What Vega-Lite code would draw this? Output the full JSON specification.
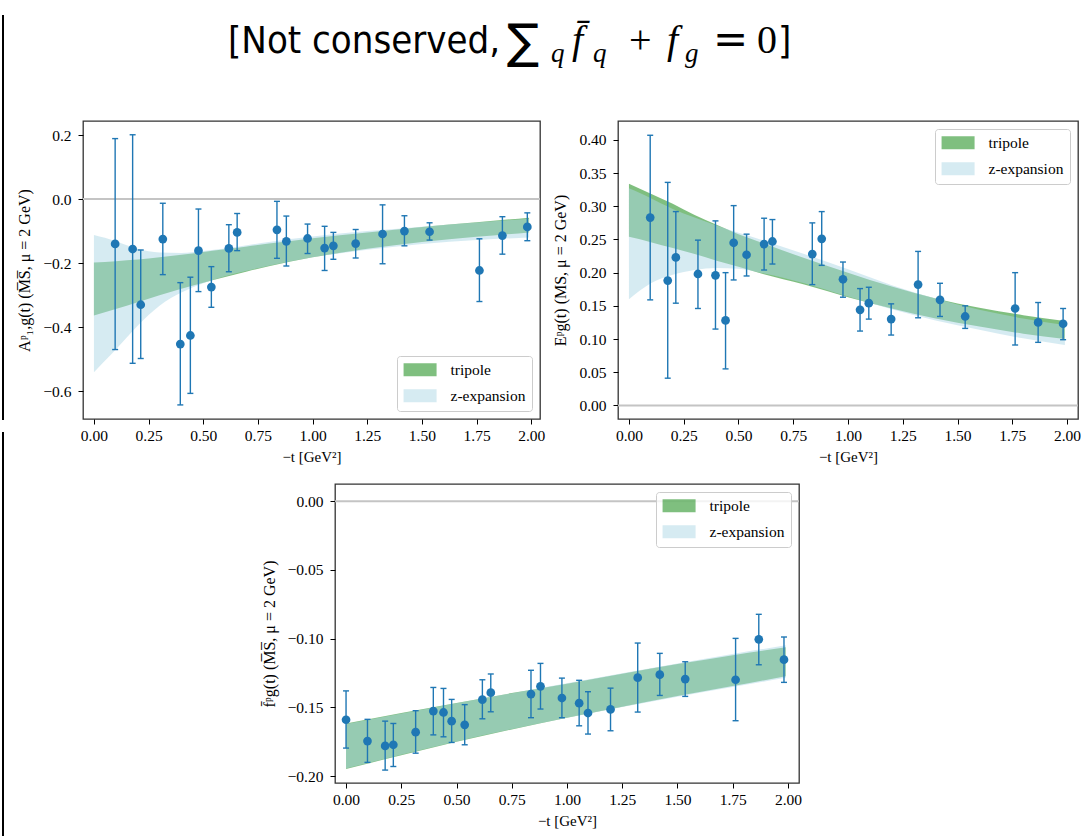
{
  "$schema": "https://vega.github.io/schema/vega-lite/v6.json",
  "background": "white",
  "padding": {"left": 2, "top": 15, "right": 0, "bottom": 0},
  "datasets": {
    "p1pts": [
      {"t": 0.097, "v": -0.140, "lo": -0.470, "hi": 0.189},
      {"t": 0.177, "v": -0.156, "lo": -0.513, "hi": 0.201},
      {"t": 0.214, "v": -0.330, "lo": -0.498, "hi": -0.159},
      {"t": 0.315, "v": -0.125, "lo": -0.236, "hi": -0.013},
      {"t": 0.395, "v": -0.453, "lo": -0.643, "hi": -0.261},
      {"t": 0.441, "v": -0.426, "lo": -0.607, "hi": -0.244},
      {"t": 0.478, "v": -0.161, "lo": -0.289, "hi": -0.031},
      {"t": 0.537, "v": -0.275, "lo": -0.338, "hi": -0.211},
      {"t": 0.617, "v": -0.154, "lo": -0.227, "hi": -0.080},
      {"t": 0.655, "v": -0.104, "lo": -0.161, "hi": -0.045},
      {"t": 0.837, "v": -0.096, "lo": -0.185, "hi": -0.007},
      {"t": 0.880, "v": -0.132, "lo": -0.209, "hi": -0.053},
      {"t": 0.977, "v": -0.123, "lo": -0.170, "hi": -0.078},
      {"t": 1.055, "v": -0.153, "lo": -0.223, "hi": -0.085},
      {"t": 1.095, "v": -0.146, "lo": -0.188, "hi": -0.104},
      {"t": 1.197, "v": -0.139, "lo": -0.184, "hi": -0.095},
      {"t": 1.320, "v": -0.109, "lo": -0.202, "hi": -0.018},
      {"t": 1.420, "v": -0.100, "lo": -0.146, "hi": -0.052},
      {"t": 1.535, "v": -0.102, "lo": -0.128, "hi": -0.074},
      {"t": 1.763, "v": -0.223, "lo": -0.320, "hi": -0.124},
      {"t": 1.868, "v": -0.114, "lo": -0.172, "hi": -0.055},
      {"t": 1.982, "v": -0.087, "lo": -0.130, "hi": -0.043}
    ],
    "p1band": [
      {"model": "tripole", "t": 0.00, "lo": -0.364, "hi": -0.198},
      {"model": "tripole", "t": 0.10, "lo": -0.343, "hi": -0.194},
      {"model": "tripole", "t": 0.20, "lo": -0.322, "hi": -0.189},
      {"model": "tripole", "t": 0.30, "lo": -0.300, "hi": -0.182},
      {"model": "tripole", "t": 0.40, "lo": -0.280, "hi": -0.174},
      {"model": "tripole", "t": 0.50, "lo": -0.261, "hi": -0.165},
      {"model": "tripole", "t": 0.60, "lo": -0.243, "hi": -0.157},
      {"model": "tripole", "t": 0.70, "lo": -0.226, "hi": -0.148},
      {"model": "tripole", "t": 0.80, "lo": -0.210, "hi": -0.139},
      {"model": "tripole", "t": 1.00, "lo": -0.182, "hi": -0.122},
      {"model": "tripole", "t": 1.25, "lo": -0.155, "hi": -0.104},
      {"model": "tripole", "t": 1.50, "lo": -0.134, "hi": -0.087},
      {"model": "tripole", "t": 1.75, "lo": -0.118, "hi": -0.072},
      {"model": "tripole", "t": 1.99, "lo": -0.104, "hi": -0.058},
      {"model": "z-expansion", "t": 0.00, "lo": -0.541, "hi": -0.112},
      {"model": "z-expansion", "t": 0.05, "lo": -0.505, "hi": -0.121},
      {"model": "z-expansion", "t": 0.10, "lo": -0.470, "hi": -0.132},
      {"model": "z-expansion", "t": 0.15, "lo": -0.432, "hi": -0.144},
      {"model": "z-expansion", "t": 0.20, "lo": -0.396, "hi": -0.155},
      {"model": "z-expansion", "t": 0.25, "lo": -0.362, "hi": -0.163},
      {"model": "z-expansion", "t": 0.30, "lo": -0.333, "hi": -0.167},
      {"model": "z-expansion", "t": 0.40, "lo": -0.292, "hi": -0.168},
      {"model": "z-expansion", "t": 0.50, "lo": -0.263, "hi": -0.162},
      {"model": "z-expansion", "t": 0.60, "lo": -0.241, "hi": -0.154},
      {"model": "z-expansion", "t": 0.70, "lo": -0.224, "hi": -0.144},
      {"model": "z-expansion", "t": 0.80, "lo": -0.208, "hi": -0.134},
      {"model": "z-expansion", "t": 1.00, "lo": -0.182, "hi": -0.117},
      {"model": "z-expansion", "t": 1.25, "lo": -0.158, "hi": -0.100},
      {"model": "z-expansion", "t": 1.50, "lo": -0.140, "hi": -0.086},
      {"model": "z-expansion", "t": 1.75, "lo": -0.128, "hi": -0.073},
      {"model": "z-expansion", "t": 1.99, "lo": -0.120, "hi": -0.061}
    ],
    "p2pts": [
      {"t": 0.097, "v": 0.283, "lo": 0.159, "hi": 0.407},
      {"t": 0.177, "v": 0.188, "lo": 0.041, "hi": 0.336},
      {"t": 0.214, "v": 0.223, "lo": 0.154, "hi": 0.292},
      {"t": 0.315, "v": 0.198, "lo": 0.146, "hi": 0.249},
      {"t": 0.395, "v": 0.196, "lo": 0.115, "hi": 0.278},
      {"t": 0.441, "v": 0.128, "lo": 0.055, "hi": 0.200},
      {"t": 0.478, "v": 0.245, "lo": 0.189, "hi": 0.301},
      {"t": 0.537, "v": 0.227, "lo": 0.195, "hi": 0.258},
      {"t": 0.617, "v": 0.243, "lo": 0.204, "hi": 0.282},
      {"t": 0.655, "v": 0.247, "lo": 0.213, "hi": 0.280},
      {"t": 0.837, "v": 0.228, "lo": 0.182, "hi": 0.275},
      {"t": 0.880, "v": 0.251, "lo": 0.211, "hi": 0.292},
      {"t": 0.977, "v": 0.190, "lo": 0.163, "hi": 0.216},
      {"t": 1.055, "v": 0.144, "lo": 0.112, "hi": 0.176},
      {"t": 1.095, "v": 0.154, "lo": 0.130, "hi": 0.178},
      {"t": 1.197, "v": 0.130, "lo": 0.106, "hi": 0.153},
      {"t": 1.320, "v": 0.182, "lo": 0.132, "hi": 0.232},
      {"t": 1.420, "v": 0.159, "lo": 0.134, "hi": 0.184},
      {"t": 1.535, "v": 0.134, "lo": 0.116, "hi": 0.150},
      {"t": 1.763, "v": 0.146, "lo": 0.091, "hi": 0.200},
      {"t": 1.868, "v": 0.125, "lo": 0.095, "hi": 0.155},
      {"t": 1.982, "v": 0.123, "lo": 0.099, "hi": 0.146}
    ],
    "p2band": [
      {"model": "tripole", "t": 0.00, "lo": 0.254, "hi": 0.334},
      {"model": "tripole", "t": 0.10, "lo": 0.246, "hi": 0.319},
      {"model": "tripole", "t": 0.20, "lo": 0.237, "hi": 0.304},
      {"model": "tripole", "t": 0.30, "lo": 0.228, "hi": 0.287},
      {"model": "tripole", "t": 0.40, "lo": 0.218, "hi": 0.272},
      {"model": "tripole", "t": 0.50, "lo": 0.209, "hi": 0.258},
      {"model": "tripole", "t": 0.60, "lo": 0.199, "hi": 0.246},
      {"model": "tripole", "t": 0.80, "lo": 0.182, "hi": 0.222},
      {"model": "tripole", "t": 1.00, "lo": 0.163, "hi": 0.200},
      {"model": "tripole", "t": 1.20, "lo": 0.146, "hi": 0.179},
      {"model": "tripole", "t": 1.40, "lo": 0.131, "hi": 0.161},
      {"model": "tripole", "t": 1.60, "lo": 0.119, "hi": 0.147},
      {"model": "tripole", "t": 1.80, "lo": 0.108, "hi": 0.136},
      {"model": "tripole", "t": 1.99, "lo": 0.100, "hi": 0.127},
      {"model": "z-expansion", "t": 0.00, "lo": 0.160, "hi": 0.327},
      {"model": "z-expansion", "t": 0.05, "lo": 0.173, "hi": 0.320},
      {"model": "z-expansion", "t": 0.10, "lo": 0.184, "hi": 0.312},
      {"model": "z-expansion", "t": 0.20, "lo": 0.197, "hi": 0.296},
      {"model": "z-expansion", "t": 0.30, "lo": 0.204, "hi": 0.283},
      {"model": "z-expansion", "t": 0.40, "lo": 0.207, "hi": 0.271},
      {"model": "z-expansion", "t": 0.50, "lo": 0.206, "hi": 0.260},
      {"model": "z-expansion", "t": 0.60, "lo": 0.200, "hi": 0.250},
      {"model": "z-expansion", "t": 0.80, "lo": 0.184, "hi": 0.228},
      {"model": "z-expansion", "t": 1.00, "lo": 0.164, "hi": 0.205},
      {"model": "z-expansion", "t": 1.20, "lo": 0.145, "hi": 0.181},
      {"model": "z-expansion", "t": 1.40, "lo": 0.128, "hi": 0.161},
      {"model": "z-expansion", "t": 1.60, "lo": 0.114, "hi": 0.144},
      {"model": "z-expansion", "t": 1.80, "lo": 0.101, "hi": 0.131},
      {"model": "z-expansion", "t": 1.99, "lo": 0.091, "hi": 0.121}
    ],
    "p3pts": [
      {"t": 0.000, "v": -0.1590, "lo": -0.1796, "hi": -0.1380},
      {"t": 0.097, "v": -0.1745, "lo": -0.1900, "hi": -0.1587},
      {"t": 0.177, "v": -0.1780, "lo": -0.1956, "hi": -0.1600},
      {"t": 0.214, "v": -0.1772, "lo": -0.1930, "hi": -0.1617},
      {"t": 0.315, "v": -0.1680, "lo": -0.1833, "hi": -0.1524},
      {"t": 0.395, "v": -0.1527, "lo": -0.1700, "hi": -0.1355},
      {"t": 0.441, "v": -0.1537, "lo": -0.1714, "hi": -0.1362},
      {"t": 0.478, "v": -0.1600, "lo": -0.1755, "hi": -0.1442},
      {"t": 0.537, "v": -0.1627, "lo": -0.1772, "hi": -0.1480},
      {"t": 0.617, "v": -0.1444, "lo": -0.1583, "hi": -0.1299},
      {"t": 0.655, "v": -0.1393, "lo": -0.1532, "hi": -0.1257},
      {"t": 0.837, "v": -0.1403, "lo": -0.1575, "hi": -0.1230},
      {"t": 0.880, "v": -0.1347, "lo": -0.1512, "hi": -0.1180},
      {"t": 0.977, "v": -0.1432, "lo": -0.1575, "hi": -0.1287},
      {"t": 1.055, "v": -0.1469, "lo": -0.1634, "hi": -0.1303},
      {"t": 1.095, "v": -0.1541, "lo": -0.1694, "hi": -0.1386},
      {"t": 1.197, "v": -0.1515, "lo": -0.1670, "hi": -0.1360},
      {"t": 1.320, "v": -0.1284, "lo": -0.1534, "hi": -0.1032},
      {"t": 1.420, "v": -0.1262, "lo": -0.1413, "hi": -0.1107},
      {"t": 1.535, "v": -0.1294, "lo": -0.1420, "hi": -0.1168},
      {"t": 1.763, "v": -0.1299, "lo": -0.1597, "hi": -0.0998},
      {"t": 1.868, "v": -0.1005, "lo": -0.1190, "hi": -0.0823},
      {"t": 1.982, "v": -0.1153, "lo": -0.1318, "hi": -0.0988}
    ],
    "p3band": [
      {"model": "tripole", "t": 0.00, "lo": -0.1949, "hi": -0.1617},
      {"model": "tripole", "t": 0.25, "lo": -0.1848, "hi": -0.1540},
      {"model": "tripole", "t": 0.50, "lo": -0.1750, "hi": -0.1468},
      {"model": "tripole", "t": 0.75, "lo": -0.1660, "hi": -0.1396},
      {"model": "tripole", "t": 1.00, "lo": -0.1575, "hi": -0.1328},
      {"model": "tripole", "t": 1.25, "lo": -0.1495, "hi": -0.1255},
      {"model": "tripole", "t": 1.50, "lo": -0.1418, "hi": -0.1185},
      {"model": "tripole", "t": 1.75, "lo": -0.1345, "hi": -0.1120},
      {"model": "tripole", "t": 1.99, "lo": -0.1274, "hi": -0.1062},
      {"model": "z-expansion", "t": 0.00, "lo": -0.1945, "hi": -0.1620},
      {"model": "z-expansion", "t": 0.50, "lo": -0.1748, "hi": -0.1470},
      {"model": "z-expansion", "t": 1.00, "lo": -0.1575, "hi": -0.1325},
      {"model": "z-expansion", "t": 1.50, "lo": -0.1422, "hi": -0.1180},
      {"model": "z-expansion", "t": 1.75, "lo": -0.1352, "hi": -0.1112},
      {"model": "z-expansion", "t": 1.99, "lo": -0.1285, "hi": -0.1048}
    ]
  },
  "bounds": "full",
  "spacing": 0,
  "resolve": {"scale": {"x": "independent", "y": "independent", "color": "independent"}, "legend": {"color": "independent"}, "axis": {"x": "independent", "y": "independent"}},
  "hconcat": [
    {
      "bounds": "flush",
      "spacing": 12,
      "vconcat": [
        {"width": 2, "height": 405, "view": {"fill": "#000000", "stroke": null}, "data": {"values": []}, "mark": "text"},
        {"width": 2, "height": 404, "view": {"fill": "#000000", "stroke": null}, "data": {"values": []}, "mark": "text"}
      ]
    },
    {
      "bounds": "full",
      "spacing": 17,
      "resolve": {"scale": {"x": "independent", "y": "independent", "color": "independent"}, "legend": {"color": "independent"}, "axis": {"x": "independent", "y": "independent"}},
      "vconcat": [
        {
          "width": 1010,
          "height": 88,
          "view": {"stroke": null},
          "layer": [
            {"data": {"values": [{"s": "[Not conserved, "}]}, "mark": {"type": "text", "align": "left", "baseline": "alphabetic", "font": "Liberation Sans Narrow, DejaVu Sans Condensed, Lato, sans-serif", "fontSize": 38, "dx": -281, "dy": -6, "color": "#000"}, "encoding": {"text": {"field": "s"}}},
            {"data": {"values": [{"s": "∑"}]}, "mark": {"type": "text", "align": "left", "baseline": "alphabetic", "font": "DejaVu Sans", "fontSize": 48, "dx": -2, "dy": -1, "color": "#000"}, "encoding": {"text": {"field": "s"}}},
            {"data": {"values": [{"s": "q"}]}, "mark": {"type": "text", "align": "left", "baseline": "alphabetic", "font": "Liberation Serif", "fontStyle": "italic", "fontSize": 27, "dx": 42, "dy": 3, "color": "#000"}, "encoding": {"text": {"field": "s"}}},
            {"data": {"values": [{"s": "f̄"}]}, "mark": {"type": "text", "align": "left", "baseline": "alphabetic", "font": "Liberation Serif", "fontStyle": "italic", "fontSize": 40, "dx": 63, "dy": -6, "color": "#000"}, "encoding": {"text": {"field": "s"}}},
            {"data": {"values": [{"s": "q"}]}, "mark": {"type": "text", "align": "left", "baseline": "alphabetic", "font": "Liberation Serif", "fontStyle": "italic", "fontSize": 27, "dx": 84, "dy": 3, "color": "#000"}, "encoding": {"text": {"field": "s"}}},
            {"data": {"values": [{"s": "+"}]}, "mark": {"type": "text", "align": "left", "baseline": "alphabetic", "font": "Liberation Serif", "fontSize": 40, "dx": 120, "dy": -6, "color": "#000"}, "encoding": {"text": {"field": "s"}}},
            {"data": {"values": [{"s": "f"}]}, "mark": {"type": "text", "align": "left", "baseline": "alphabetic", "font": "Liberation Serif", "fontStyle": "italic", "fontSize": 40, "dx": 158, "dy": -6, "color": "#000"}, "encoding": {"text": {"field": "s"}}},
            {"data": {"values": [{"s": "g"}]}, "mark": {"type": "text", "align": "left", "baseline": "alphabetic", "font": "Liberation Serif", "fontStyle": "italic", "fontSize": 27, "dx": 176, "dy": 3, "color": "#000"}, "encoding": {"text": {"field": "s"}}},
            {"data": {"values": [{"s": "="}]}, "mark": {"type": "text", "align": "left", "baseline": "alphabetic", "font": "DejaVu Sans", "fontSize": 42, "dx": 204, "dy": -6, "color": "#000"}, "encoding": {"text": {"field": "s"}}},
            {"data": {"values": [{"s": "0"}]}, "mark": {"type": "text", "align": "left", "baseline": "alphabetic", "font": "Liberation Serif", "fontSize": 40, "dx": 248, "dy": -6, "color": "#000"}, "encoding": {"text": {"field": "s"}}},
            {"data": {"values": [{"s": "]"}]}, "mark": {"type": "text", "align": "left", "baseline": "alphabetic", "font": "Liberation Sans Narrow, DejaVu Sans Condensed, Lato, sans-serif", "fontSize": 38, "dx": 269, "dy": -6, "color": "#000"}, "encoding": {"text": {"field": "s"}}}
          ]
        },
        {
          "bounds": "flush",
          "spacing": 78,
          "resolve": {"scale": {"x": "independent", "y": "independent", "color": "independent"}, "legend": {"color": "independent"}, "axis": {"x": "independent", "y": "independent"}},
          "hconcat": [
            {"width": 1, "height": 1, "view": {"stroke": null}, "data": {"values": []}, "mark": "text"},
            {
              "width": 457,
              "height": 298,
              "layer": [
                {"data": {"values": [{}]}, "mark": {"type": "rule", "color": "#c4c4c4", "strokeWidth": 2}, "encoding": {"y": {"datum": 0, "type": "quantitative", "scale": {"domain": [-0.687, 0.244], "nice": false, "zero": false}, "axis": {"values": [-0.6, -0.4, -0.2, 0, 0.2], "format": ".1f", "title": "Aᵖ₁,g(t)   (M̅S̅, μ = 2 GeV)"}}}},
                {"data": {"name": "p1band"}, "transform": [{"filter": "datum.model === 'tripole'"}], "mark": {"type": "area", "opacity": 0.5, "interpolate": "monotone"}, "encoding": {"x": {"field": "t", "type": "quantitative", "scale": {"domain": [-0.05, 2.04], "nice": false, "zero": false}, "axis": {"values": [0, 0.25, 0.5, 0.75, 1, 1.25, 1.5, 1.75, 2], "format": ".2f", "title": "−t [GeV²]"}}, "y": {"field": "lo", "type": "quantitative", "scale": {"domain": [-0.687, 0.244], "nice": false, "zero": false}, "axis": {"values": [-0.6, -0.4, -0.2, 0, 0.2], "format": ".1f", "title": "Aᵖ₁,g(t)   (M̅S̅, μ = 2 GeV)"}}, "y2": {"field": "hi"}, "color": {"field": "model", "type": "nominal", "scale": {"domain": ["tripole", "z-expansion"], "range": ["#008000", "#add8e6"]}, "legend": {"title": null, "orient": "bottom-right"}}}},
                {"data": {"name": "p1band"}, "transform": [{"filter": "datum.model === 'z-expansion'"}], "mark": {"type": "area", "opacity": 0.5, "interpolate": "monotone"}, "encoding": {"x": {"field": "t", "type": "quantitative", "scale": {"domain": [-0.05, 2.04], "nice": false, "zero": false}, "axis": {"values": [0, 0.25, 0.5, 0.75, 1, 1.25, 1.5, 1.75, 2], "format": ".2f", "title": "−t [GeV²]"}}, "y": {"field": "lo", "type": "quantitative", "scale": {"domain": [-0.687, 0.244], "nice": false, "zero": false}, "axis": {"values": [-0.6, -0.4, -0.2, 0, 0.2], "format": ".1f", "title": "Aᵖ₁,g(t)   (M̅S̅, μ = 2 GeV)"}}, "y2": {"field": "hi"}, "color": {"field": "model", "type": "nominal", "scale": {"domain": ["tripole", "z-expansion"], "range": ["#008000", "#add8e6"]}, "legend": {"title": null, "orient": "bottom-right"}}}},
                {"data": {"name": "p1pts"}, "mark": {"type": "rule", "color": "#1f77b4", "strokeWidth": 1.4}, "encoding": {"x": {"field": "t", "type": "quantitative", "scale": {"domain": [-0.05, 2.04], "nice": false, "zero": false}, "axis": {"values": [0, 0.25, 0.5, 0.75, 1, 1.25, 1.5, 1.75, 2], "format": ".2f", "title": "−t [GeV²]"}}, "y": {"field": "lo", "type": "quantitative", "scale": {"domain": [-0.687, 0.244], "nice": false, "zero": false}, "axis": {"values": [-0.6, -0.4, -0.2, 0, 0.2], "format": ".1f", "title": "Aᵖ₁,g(t)   (M̅S̅, μ = 2 GeV)"}}, "y2": {"field": "hi"}}},
                {"data": {"name": "p1pts"}, "mark": {"type": "tick", "orient": "horizontal", "color": "#1f77b4", "size": 6, "thickness": 1.4, "opacity": 1}, "encoding": {"x": {"field": "t", "type": "quantitative", "scale": {"domain": [-0.05, 2.04], "nice": false, "zero": false}, "axis": {"values": [0, 0.25, 0.5, 0.75, 1, 1.25, 1.5, 1.75, 2], "format": ".2f", "title": "−t [GeV²]"}}, "y": {"field": "lo", "type": "quantitative", "scale": {"domain": [-0.687, 0.244], "nice": false, "zero": false}, "axis": {"values": [-0.6, -0.4, -0.2, 0, 0.2], "format": ".1f", "title": "Aᵖ₁,g(t)   (M̅S̅, μ = 2 GeV)"}}}},
                {"data": {"name": "p1pts"}, "mark": {"type": "tick", "orient": "horizontal", "color": "#1f77b4", "size": 6, "thickness": 1.4, "opacity": 1}, "encoding": {"x": {"field": "t", "type": "quantitative", "scale": {"domain": [-0.05, 2.04], "nice": false, "zero": false}, "axis": {"values": [0, 0.25, 0.5, 0.75, 1, 1.25, 1.5, 1.75, 2], "format": ".2f", "title": "−t [GeV²]"}}, "y": {"field": "hi", "type": "quantitative", "scale": {"domain": [-0.687, 0.244], "nice": false, "zero": false}, "axis": {"values": [-0.6, -0.4, -0.2, 0, 0.2], "format": ".1f", "title": "Aᵖ₁,g(t)   (M̅S̅, μ = 2 GeV)"}}}},
                {"data": {"name": "p1pts"}, "mark": {"type": "circle", "color": "#1f77b4", "size": 76, "opacity": 1}, "encoding": {"x": {"field": "t", "type": "quantitative", "scale": {"domain": [-0.05, 2.04], "nice": false, "zero": false}, "axis": {"values": [0, 0.25, 0.5, 0.75, 1, 1.25, 1.5, 1.75, 2], "format": ".2f", "title": "−t [GeV²]"}}, "y": {"field": "v", "type": "quantitative", "scale": {"domain": [-0.687, 0.244], "nice": false, "zero": false}, "axis": {"values": [-0.6, -0.4, -0.2, 0, 0.2], "format": ".1f", "title": "Aᵖ₁,g(t)   (M̅S̅, μ = 2 GeV)"}}}}
              ]
            },
            {
              "width": 460,
              "height": 298,
              "layer": [
                {"data": {"values": [{}]}, "mark": {"type": "rule", "color": "#c4c4c4", "strokeWidth": 2}, "encoding": {"y": {"datum": 0, "type": "quantitative", "scale": {"domain": [-0.0205, 0.4285], "nice": false, "zero": false}, "axis": {"values": [0, 0.05, 0.1, 0.15, 0.2, 0.25, 0.3, 0.35, 0.4], "format": ".2f", "title": "Eᵖg(t)   (MS, μ = 2 GeV)"}}}},
                {"data": {"name": "p2band"}, "transform": [{"filter": "datum.model === 'tripole'"}], "mark": {"type": "area", "opacity": 0.5, "interpolate": "monotone"}, "encoding": {"x": {"field": "t", "type": "quantitative", "scale": {"domain": [-0.05, 2.05], "nice": false, "zero": false}, "axis": {"values": [0, 0.25, 0.5, 0.75, 1, 1.25, 1.5, 1.75, 2], "format": ".2f", "title": "−t [GeV²]"}}, "y": {"field": "lo", "type": "quantitative", "scale": {"domain": [-0.0205, 0.4285], "nice": false, "zero": false}, "axis": {"values": [0, 0.05, 0.1, 0.15, 0.2, 0.25, 0.3, 0.35, 0.4], "format": ".2f", "title": "Eᵖg(t)   (MS, μ = 2 GeV)"}}, "y2": {"field": "hi"}, "color": {"field": "model", "type": "nominal", "scale": {"domain": ["tripole", "z-expansion"], "range": ["#008000", "#add8e6"]}, "legend": {"title": null, "orient": "top-right"}}}},
                {"data": {"name": "p2band"}, "transform": [{"filter": "datum.model === 'z-expansion'"}], "mark": {"type": "area", "opacity": 0.5, "interpolate": "monotone"}, "encoding": {"x": {"field": "t", "type": "quantitative", "scale": {"domain": [-0.05, 2.05], "nice": false, "zero": false}, "axis": {"values": [0, 0.25, 0.5, 0.75, 1, 1.25, 1.5, 1.75, 2], "format": ".2f", "title": "−t [GeV²]"}}, "y": {"field": "lo", "type": "quantitative", "scale": {"domain": [-0.0205, 0.4285], "nice": false, "zero": false}, "axis": {"values": [0, 0.05, 0.1, 0.15, 0.2, 0.25, 0.3, 0.35, 0.4], "format": ".2f", "title": "Eᵖg(t)   (MS, μ = 2 GeV)"}}, "y2": {"field": "hi"}, "color": {"field": "model", "type": "nominal", "scale": {"domain": ["tripole", "z-expansion"], "range": ["#008000", "#add8e6"]}, "legend": {"title": null, "orient": "top-right"}}}},
                {"data": {"name": "p2pts"}, "mark": {"type": "rule", "color": "#1f77b4", "strokeWidth": 1.4}, "encoding": {"x": {"field": "t", "type": "quantitative", "scale": {"domain": [-0.05, 2.05], "nice": false, "zero": false}, "axis": {"values": [0, 0.25, 0.5, 0.75, 1, 1.25, 1.5, 1.75, 2], "format": ".2f", "title": "−t [GeV²]"}}, "y": {"field": "lo", "type": "quantitative", "scale": {"domain": [-0.0205, 0.4285], "nice": false, "zero": false}, "axis": {"values": [0, 0.05, 0.1, 0.15, 0.2, 0.25, 0.3, 0.35, 0.4], "format": ".2f", "title": "Eᵖg(t)   (MS, μ = 2 GeV)"}}, "y2": {"field": "hi"}}},
                {"data": {"name": "p2pts"}, "mark": {"type": "tick", "orient": "horizontal", "color": "#1f77b4", "size": 6, "thickness": 1.4, "opacity": 1}, "encoding": {"x": {"field": "t", "type": "quantitative", "scale": {"domain": [-0.05, 2.05], "nice": false, "zero": false}, "axis": {"values": [0, 0.25, 0.5, 0.75, 1, 1.25, 1.5, 1.75, 2], "format": ".2f", "title": "−t [GeV²]"}}, "y": {"field": "lo", "type": "quantitative", "scale": {"domain": [-0.0205, 0.4285], "nice": false, "zero": false}, "axis": {"values": [0, 0.05, 0.1, 0.15, 0.2, 0.25, 0.3, 0.35, 0.4], "format": ".2f", "title": "Eᵖg(t)   (MS, μ = 2 GeV)"}}}},
                {"data": {"name": "p2pts"}, "mark": {"type": "tick", "orient": "horizontal", "color": "#1f77b4", "size": 6, "thickness": 1.4, "opacity": 1}, "encoding": {"x": {"field": "t", "type": "quantitative", "scale": {"domain": [-0.05, 2.05], "nice": false, "zero": false}, "axis": {"values": [0, 0.25, 0.5, 0.75, 1, 1.25, 1.5, 1.75, 2], "format": ".2f", "title": "−t [GeV²]"}}, "y": {"field": "hi", "type": "quantitative", "scale": {"domain": [-0.0205, 0.4285], "nice": false, "zero": false}, "axis": {"values": [0, 0.05, 0.1, 0.15, 0.2, 0.25, 0.3, 0.35, 0.4], "format": ".2f", "title": "Eᵖg(t)   (MS, μ = 2 GeV)"}}}},
                {"data": {"name": "p2pts"}, "mark": {"type": "circle", "color": "#1f77b4", "size": 76, "opacity": 1}, "encoding": {"x": {"field": "t", "type": "quantitative", "scale": {"domain": [-0.05, 2.05], "nice": false, "zero": false}, "axis": {"values": [0, 0.25, 0.5, 0.75, 1, 1.25, 1.5, 1.75, 2], "format": ".2f", "title": "−t [GeV²]"}}, "y": {"field": "v", "type": "quantitative", "scale": {"domain": [-0.0205, 0.4285], "nice": false, "zero": false}, "axis": {"values": [0, 0.05, 0.1, 0.15, 0.2, 0.25, 0.3, 0.35, 0.4], "format": ".2f", "title": "Eᵖg(t)   (MS, μ = 2 GeV)"}}}}
              ]
            }
          ]
        },
        {
          "bounds": "flush",
          "spacing": 330,
          "resolve": {"scale": {"x": "independent", "y": "independent", "color": "independent"}, "legend": {"color": "independent"}, "axis": {"x": "independent", "y": "independent"}},
          "hconcat": [
            {"width": 1, "height": 1, "view": {"stroke": null}, "data": {"values": []}, "mark": "text"},
            {
              "width": 464,
              "height": 299,
              "layer": [
                {"data": {"values": [{}]}, "mark": {"type": "rule", "color": "#c4c4c4", "strokeWidth": 2}, "encoding": {"y": {"datum": 0, "type": "quantitative", "scale": {"domain": [-0.205, 0.0125], "nice": false, "zero": false}, "axis": {"values": [-0.2, -0.15, -0.1, -0.05, 0], "format": ".2f", "title": "f̄ᵖg(t)   (M̅S̅, μ = 2 GeV)"}}}},
                {"data": {"name": "p3band"}, "transform": [{"filter": "datum.model === 'tripole'"}], "mark": {"type": "area", "opacity": 0.5, "interpolate": "monotone"}, "encoding": {"x": {"field": "t", "type": "quantitative", "scale": {"domain": [-0.05, 2.05], "nice": false, "zero": false}, "axis": {"values": [0, 0.25, 0.5, 0.75, 1, 1.25, 1.5, 1.75, 2], "format": ".2f", "title": "−t [GeV²]"}}, "y": {"field": "lo", "type": "quantitative", "scale": {"domain": [-0.205, 0.0125], "nice": false, "zero": false}, "axis": {"values": [-0.2, -0.15, -0.1, -0.05, 0], "format": ".2f", "title": "f̄ᵖg(t)   (M̅S̅, μ = 2 GeV)"}}, "y2": {"field": "hi"}, "color": {"field": "model", "type": "nominal", "scale": {"domain": ["tripole", "z-expansion"], "range": ["#008000", "#add8e6"]}, "legend": {"title": null, "orient": "top-right"}}}},
                {"data": {"name": "p3band"}, "transform": [{"filter": "datum.model === 'z-expansion'"}], "mark": {"type": "area", "opacity": 0.5, "interpolate": "monotone"}, "encoding": {"x": {"field": "t", "type": "quantitative", "scale": {"domain": [-0.05, 2.05], "nice": false, "zero": false}, "axis": {"values": [0, 0.25, 0.5, 0.75, 1, 1.25, 1.5, 1.75, 2], "format": ".2f", "title": "−t [GeV²]"}}, "y": {"field": "lo", "type": "quantitative", "scale": {"domain": [-0.205, 0.0125], "nice": false, "zero": false}, "axis": {"values": [-0.2, -0.15, -0.1, -0.05, 0], "format": ".2f", "title": "f̄ᵖg(t)   (M̅S̅, μ = 2 GeV)"}}, "y2": {"field": "hi"}, "color": {"field": "model", "type": "nominal", "scale": {"domain": ["tripole", "z-expansion"], "range": ["#008000", "#add8e6"]}, "legend": {"title": null, "orient": "top-right"}}}},
                {"data": {"name": "p3pts"}, "mark": {"type": "rule", "color": "#1f77b4", "strokeWidth": 1.4}, "encoding": {"x": {"field": "t", "type": "quantitative", "scale": {"domain": [-0.05, 2.05], "nice": false, "zero": false}, "axis": {"values": [0, 0.25, 0.5, 0.75, 1, 1.25, 1.5, 1.75, 2], "format": ".2f", "title": "−t [GeV²]"}}, "y": {"field": "lo", "type": "quantitative", "scale": {"domain": [-0.205, 0.0125], "nice": false, "zero": false}, "axis": {"values": [-0.2, -0.15, -0.1, -0.05, 0], "format": ".2f", "title": "f̄ᵖg(t)   (M̅S̅, μ = 2 GeV)"}}, "y2": {"field": "hi"}}},
                {"data": {"name": "p3pts"}, "mark": {"type": "tick", "orient": "horizontal", "color": "#1f77b4", "size": 6, "thickness": 1.4, "opacity": 1}, "encoding": {"x": {"field": "t", "type": "quantitative", "scale": {"domain": [-0.05, 2.05], "nice": false, "zero": false}, "axis": {"values": [0, 0.25, 0.5, 0.75, 1, 1.25, 1.5, 1.75, 2], "format": ".2f", "title": "−t [GeV²]"}}, "y": {"field": "lo", "type": "quantitative", "scale": {"domain": [-0.205, 0.0125], "nice": false, "zero": false}, "axis": {"values": [-0.2, -0.15, -0.1, -0.05, 0], "format": ".2f", "title": "f̄ᵖg(t)   (M̅S̅, μ = 2 GeV)"}}}},
                {"data": {"name": "p3pts"}, "mark": {"type": "tick", "orient": "horizontal", "color": "#1f77b4", "size": 6, "thickness": 1.4, "opacity": 1}, "encoding": {"x": {"field": "t", "type": "quantitative", "scale": {"domain": [-0.05, 2.05], "nice": false, "zero": false}, "axis": {"values": [0, 0.25, 0.5, 0.75, 1, 1.25, 1.5, 1.75, 2], "format": ".2f", "title": "−t [GeV²]"}}, "y": {"field": "hi", "type": "quantitative", "scale": {"domain": [-0.205, 0.0125], "nice": false, "zero": false}, "axis": {"values": [-0.2, -0.15, -0.1, -0.05, 0], "format": ".2f", "title": "f̄ᵖg(t)   (M̅S̅, μ = 2 GeV)"}}}},
                {"data": {"name": "p3pts"}, "mark": {"type": "circle", "color": "#1f77b4", "size": 76, "opacity": 1}, "encoding": {"x": {"field": "t", "type": "quantitative", "scale": {"domain": [-0.05, 2.05], "nice": false, "zero": false}, "axis": {"values": [0, 0.25, 0.5, 0.75, 1, 1.25, 1.5, 1.75, 2], "format": ".2f", "title": "−t [GeV²]"}}, "y": {"field": "v", "type": "quantitative", "scale": {"domain": [-0.205, 0.0125], "nice": false, "zero": false}, "axis": {"values": [-0.2, -0.15, -0.1, -0.05, 0], "format": ".2f", "title": "f̄ᵖg(t)   (M̅S̅, μ = 2 GeV)"}}}}
              ]
            }
          ]
        }
      ]
    }
  ],
  "config": {
    "view": {"stroke": "#333333", "strokeWidth": 1.3},
    "axis": {
      "grid": false,
      "domain": false,
      "labelFlush": false,
      "labelOverlap": false,
      "labelFont": "Liberation Serif",
      "labelFontSize": 15.5,
      "labelColor": "#000000",
      "labelPadding": 4,
      "tickColor": "#000000",
      "tickSize": 5,
      "tickWidth": 1,
      "titleFont": "Liberation Serif",
      "titleFontSize": 15,
      "titleFontWeight": "normal",
      "titleColor": "#000000",
      "titlePadding": 6
    },
    "axisY": {"labelPadding": 7, "titlePadding": 10, "titleFontSize": 16},
    "legend": {
      "offset": 8,
      "padding": 6,
      "fillColor": "rgba(255,255,255,0.8)",
      "strokeColor": "#cccccc",
      "cornerRadius": 3,
      "symbolType": "M-1,-0.92H3.6V0.92H-1Z",
      "symbolSize": 206,
      "symbolOpacity": 0.5,
      "symbolStrokeWidth": 0,
      "labelFont": "Liberation Serif",
      "labelFontSize": 15.5,
      "labelColor": "#000000",
      "labelOffset": 32,
      "rowPadding": 9
    }
  }
}
